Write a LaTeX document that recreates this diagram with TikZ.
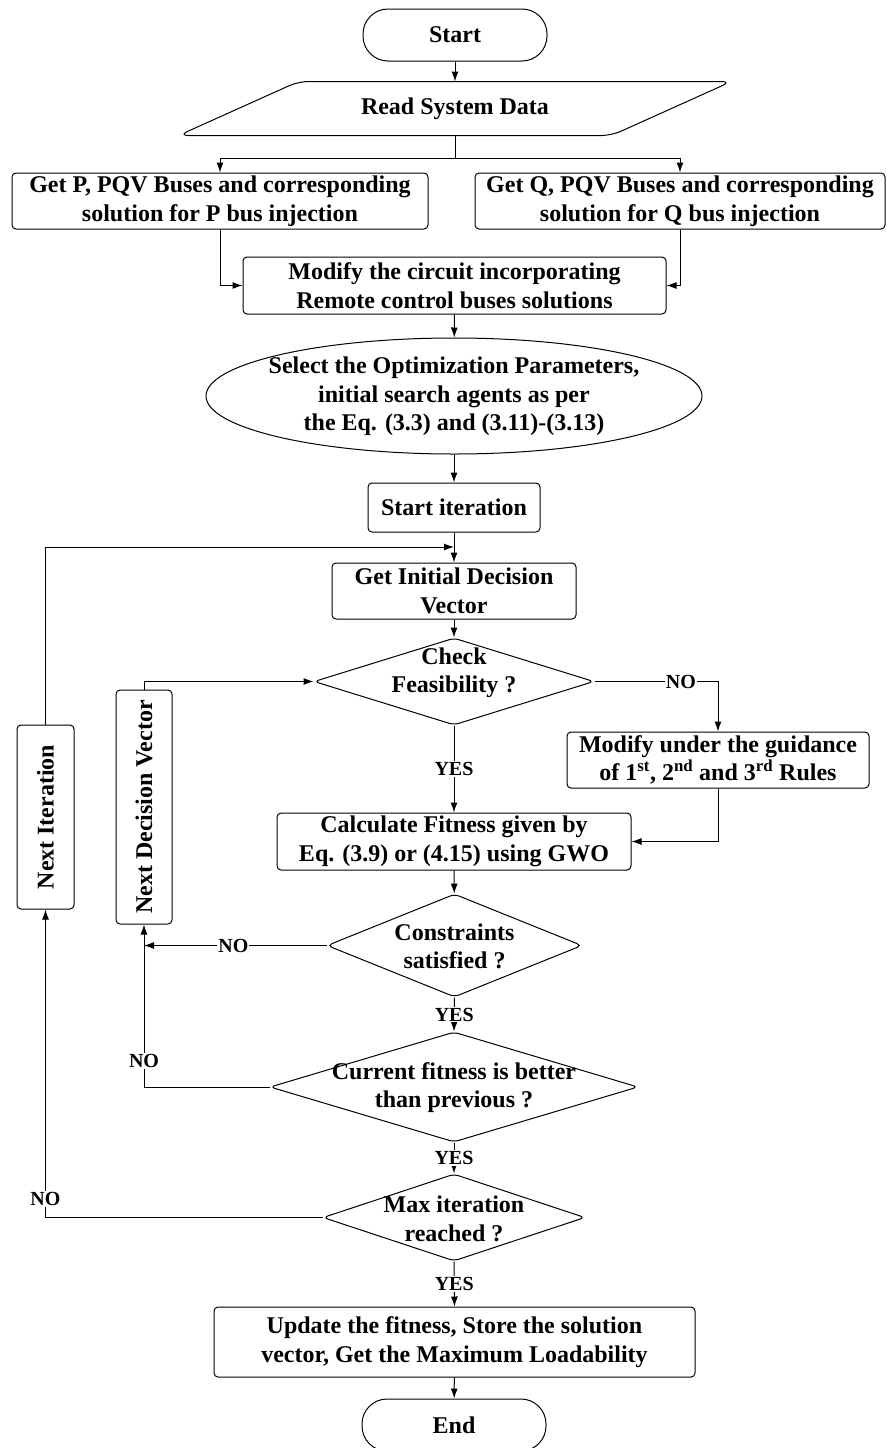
\documentclass[tikz,border=0pt]{standalone}
\usepackage{fontspec}
\setmainfont{Liberation Serif}
\usetikzlibrary{shapes.geometric,arrows.meta}

\begin{document}
\begin{tikzpicture}[x=1pt, y=-1pt, line width=1pt,
    every node/.style={font=\fontsize{24}{28.5}\selectfont\bfseries, align=center},
    box/.style={draw, rounded corners=4pt, inner sep=2pt},
    term/.style={draw, rounded corners=25pt, minimum width=184pt, minimum height=52pt},
    decision/.style={draw, diamond, rounded corners=5pt, inner sep=0pt},
    lbl/.style={fill=white, inner sep=1pt, font=\fontsize{20}{22}\selectfont\bfseries},
    >={Latex[length=10pt,width=7pt]}]
    \useasboundingbox (0,0) rectangle (886,1448);

    % Start and input
    \node[term] (start) at (455,35) {Start};
    \node[minimum width=432pt, minimum height=53pt] (read) at (455,108.5) {Read System Data};
    \draw[rounded corners=10pt] ([xshift=60pt]read.north west) -- ([xshift=60pt]read.north east)
        -- ([xshift=-60pt]read.south east) -- ([xshift=-60pt]read.south west) -- cycle;
    \coordinate (split) at (455,158);

    % Bus injection
    \node[box, minimum width=416pt, minimum height=56pt] (getp) at (220,201)
        {Get P, PQV Buses and corresponding\\solution for P bus injection};
    \node[box, minimum width=410pt, minimum height=56pt] (getq) at (680,201)
        {Get Q, PQV Buses and corresponding\\solution for Q bus injection};
    \node[box, minimum width=423pt, minimum height=57pt] (modc) at (454.5,285.5)
        {Modify the circuit incorporating\\Remote control buses solutions};

    % Parameters
    \node[draw, ellipse, inner sep=0pt, minimum width=496pt, minimum height=116pt] (sel) at (454,396) {};
    \node (sel-t) at (454,396.5)
        {Select the Optimization Parameters,\\initial search agents as per\\the Eq. (3.3) and (3.11)-(3.13)};
    \node[box, minimum width=172pt, minimum height=49pt] (startit) at (454,507.5) {Start iteration};
    \coordinate (loop) at (454,547);
    \node[box, minimum width=244pt, minimum height=56pt] (getinit) at (454,591) {Get Initial Decision\\Vector};

    % Decisions
    \node[decision, minimum width=280pt, minimum height=87pt] (chk) at (454,681.5) {};
    \node (chk-t) at (454,673) {Check\\Feasibility ?};
    \node[box, minimum width=302pt, minimum height=56pt] (modg) at (718,760)
        {Modify under the guidance\\of 1\textsuperscript{st}, 2\textsuperscript{nd} and 3\textsuperscript{rd} Rules};
    \node[box, minimum width=354pt, minimum height=57pt] (calc) at (454,841.5)
        {Calculate Fitness given by\\Eq. (3.9) or (4.15) using GWO};
    \node[decision, minimum width=255pt, minimum height=103pt] (cons) at (454.5,945.5) {};
    \node (cons-t) at (454.5,946.5) {Constraints\\satisfied ?};
    \node[decision, minimum width=368pt, minimum height=110pt] (cur) at (454,1087) {};
    \node (cur-t) at (454,1087.5) {Current fitness is better\\than previous ?};
    \node[decision, minimum width=262pt, minimum height=87pt] (max) at (454,1217.5) {};
    \node (max-t) at (454,1219) {Max iteration\\reached ?};

    % Output
    \node[box, minimum width=481pt, minimum height=70pt] (upd) at (454.5,1342)
        {Update the fitness, Store the solution\\vector, Get the Maximum Loadability};
    \node[term] (end) at (454,1425) {End};

    % Loop boxes
    \node[box, minimum width=57pt, minimum height=184pt] (nexti) at (45.5,817) {\rotatebox{90}{Next Iteration}};
    \node[box, minimum width=56pt, minimum height=234pt] (nextd) at (144,807) {\rotatebox{90}{Next Decision Vector}};

    % Arrows
    \draw[->] (start) -- (read.north);
    \draw (read.south) -- (split);
    \draw[->] (split) -| (getp);
    \draw[->] (split) -| (getq);
    \draw[->] (getp.south) |- (modc.west);
    \draw[->] (getq.south) |- (modc.east);
    \draw[->] (modc) -- (sel);
    \draw[->] (sel) -- (startit);
    \draw[->] (startit) -- (getinit);
    \draw[->] (getinit) -- (chk);
    \draw[->] (chk.east) -| node[lbl, pos=0.35] {NO} (modg.north);
    \draw[->] (modg.south) |- (calc.east);
    \draw[->] (chk.south) -- node[lbl] {YES} (calc.north);
    \draw[->] (calc) -- (cons);
    \draw[->] (cons.west) -- node[lbl, pos=0.51] {NO} (cons.west -| nextd.south);
    \draw[->] (cons.south) -- node[lbl] {YES} (cur.north);
    \draw[->] (cur.west) -| node[lbl, pos=0.58] {NO} (nextd.south);
    \draw[->] (nextd.north) |- (chk.west);
    \draw[->] (cur.south) -- node[lbl] {YES} (max.north);
    \draw[->] (max.west) -| node[lbl, pos=0.53] {NO} (nexti.south);
    \draw[->] (nexti.north) |- (loop);
    \draw[->] (max.south) -- node[lbl] {YES} (upd.north);
    \draw[->] (upd) -- (end);
\end{tikzpicture}
\end{document}
